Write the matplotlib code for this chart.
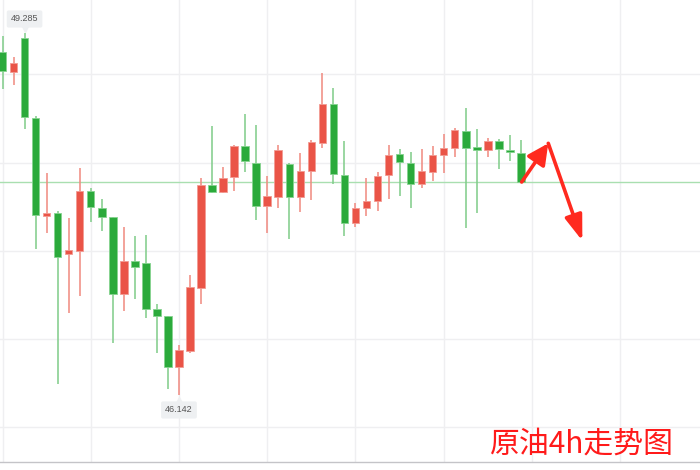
import matplotlib
matplotlib.use("Agg")
import matplotlib.pyplot as plt
from matplotlib.transforms import offset_copy
import numpy as np

# ---- data (4h candles, prices) ----
opens = [49.117, 48.944, 49.244, 48.544, 47.696, 47.725, 47.363, 47.395, 47.916, 47.765,
         47.685, 47.016, 47.308, 47.288, 46.886, 46.825, 46.382, 46.526, 47.068, 47.963,
         47.907, 48.032, 48.306, 48.154, 47.780, 47.864, 48.145, 47.861, 48.089, 48.327,
         48.666, 48.049, 47.635, 47.765, 47.829, 48.049, 48.232, 48.156, 47.971, 48.081,
         48.226, 48.284, 48.431, 48.295, 48.266, 48.350, 48.266, 48.243]
highs = [49.259, 49.074, 49.285, 48.567, 48.072, 47.739, 47.676, 48.115, 47.937, 47.846,
         47.687, 47.603, 47.520, 47.534, 46.929, 46.828, 46.576, 47.184, 48.029, 48.475,
         48.119, 48.312, 48.582, 48.486, 48.043, 48.312, 48.154, 48.243, 48.356, 48.938,
         48.807, 48.347, 47.806, 48.023, 48.078, 48.312, 48.275, 48.254, 48.280, 48.306,
         48.408, 48.457, 48.634, 48.451, 48.371, 48.367, 48.397, 48.356]
lows = [48.796, 48.831, 48.454, 47.412, 47.546, 46.235, 46.856, 47.004, 47.647, 47.568,
        46.591, 46.874, 46.975, 46.813, 46.509, 46.191, 46.142, 46.509, 46.929, 47.898,
        47.900, 47.913, 48.081, 47.661, 47.548, 47.768, 47.494, 47.731, 47.838, 48.289,
        47.978, 47.525, 47.603, 47.696, 47.737, 47.846, 47.872, 47.768, 47.942, 48.004,
        48.072, 48.211, 47.594, 47.719, 48.211, 48.107, 48.174, 47.980]
closes = [48.958, 49.022, 48.558, 47.702, 47.725, 47.337, 47.403, 47.916, 47.777, 47.685,
          47.021, 47.308, 47.256, 46.891, 46.828, 46.382, 46.530, 47.077, 47.963, 47.907,
          48.029, 48.306, 48.174, 47.780, 47.867, 48.266, 47.861, 48.087, 48.336, 48.666,
          48.058, 47.635, 47.765, 47.824, 48.043, 48.226, 48.168, 47.971, 48.084, 48.226,
          48.286, 48.440, 48.289, 48.269, 48.350, 48.275, 48.254, 47.991]

high_label = "49.285"
low_label = "46.142"
title_text = "原油4h走势图"

# arrow path (candle index, price)
arrow_x = [47.07, 49.48, 52.57]
arrow_y = [47.991, 48.327, 47.481]

# grid levels
grid_prices = [48.929, 48.156, 47.392, 46.628, 45.864]
grid_idx = [0, 8, 16, 24, 32, 40, 48, 56]

UP = "#ea5447"
DOWN = "#2baa3b"
UP_W = "#f0897f"
DOWN_W = "#7fcc88"

fig = plt.figure(figsize=(7, 4.7), dpi=100)
ax = fig.add_axes([0, 8 / 470, 1, 462 / 470])
ax.set_xlim(-0.2267, 63.237)
ax.set_ylim(45.560, 49.5715)

for g in grid_prices:
    ax.axhline(g, color="#efeff1", lw=1, zorder=0)
for g in grid_idx:
    ax.axvline(g, color="#efeff1", lw=1, zorder=0)

x = np.arange(len(opens))
o = np.array(opens); c = np.array(closes); h = np.array(highs); l = np.array(lows)
up = c >= o
cols = np.where(up, UP, DOWN)
wcols = np.where(up, UP_W, DOWN_W)
edge = np.where(up, "#f29b93", "#86d390")

ax.vlines(x, l, h, colors=wcols, lw=1.1, zorder=2)
bottoms = np.minimum(o, c)
heights = np.maximum(np.abs(c - o), 0.012)
ax.bar(x, heights, bottom=bottoms, width=0.68, color=cols, edgecolor=edge,
       linewidth=0.6, zorder=3)

# last price line
ax.axhline(closes[-1], color="#a9dfb0", lw=1, zorder=1)

# high / low labels
ih = int(np.argmax(h)); il = int(np.argmin(l))
box = dict(boxstyle="round,pad=0.45,rounding_size=0.2", fc="#eef0f2", ec="none")
ax.annotate(high_label, xy=(ih, h[ih]), xytext=(0, 14), textcoords="offset pixels",
            ha="center", va="center", fontsize=6.5, color="#555555",
            family="Liberation Sans", bbox=box, zorder=5)
ax.annotate(low_label, xy=(il, l[il]), xytext=(0, -15), textcoords="offset pixels",
            ha="center", va="center", fontsize=6.5, color="#555555",
            family="Liberation Sans", bbox=box, zorder=5)
t1 = offset_copy(ax.transData, fig=fig, x=0, y=4, units="dots")
ax.plot([ih], [h[ih]], marker="v", ms=4.5, color="#eef0f2", transform=t1, zorder=5)
t2 = offset_copy(ax.transData, fig=fig, x=0, y=-5, units="dots")
ax.plot([il], [l[il]], marker="^", ms=4.5, color="#eef0f2", transform=t2, zorder=5)

# arrows
ax.annotate("", xy=(arrow_x[1], arrow_y[1]), xytext=(arrow_x[0], arrow_y[0]),
            arrowprops=dict(arrowstyle="-|>,head_length=0.9,head_width=0.45",
                            color="#ff2a1f", lw=2.6, shrinkA=0, shrinkB=0,
                            mutation_scale=14), zorder=6)
ax.annotate("", xy=(arrow_x[2], arrow_y[2]), xytext=(arrow_x[1], arrow_y[1]),
            arrowprops=dict(arrowstyle="-|>,head_length=1.1,head_width=0.38",
                            color="#ff2a1f", lw=2.6, shrinkA=0, shrinkB=0,
                            mutation_scale=14), zorder=6)

ax.set_xticks([]); ax.set_yticks([])
for s in ["top", "left", "right"]:
    ax.spines[s].set_visible(False)
ax.spines["bottom"].set_color("#c4c4c8")
ax.spines["bottom"].set_linewidth(1)

fig.text(490 / 700, 1 - 444 / 470, title_text, ha="left", va="center",
         fontsize=21.5, color="#ff1a1a", family=["Noto Sans CJK SC", "DejaVu Sans"])

fig.savefig("out.png", dpi=100)
